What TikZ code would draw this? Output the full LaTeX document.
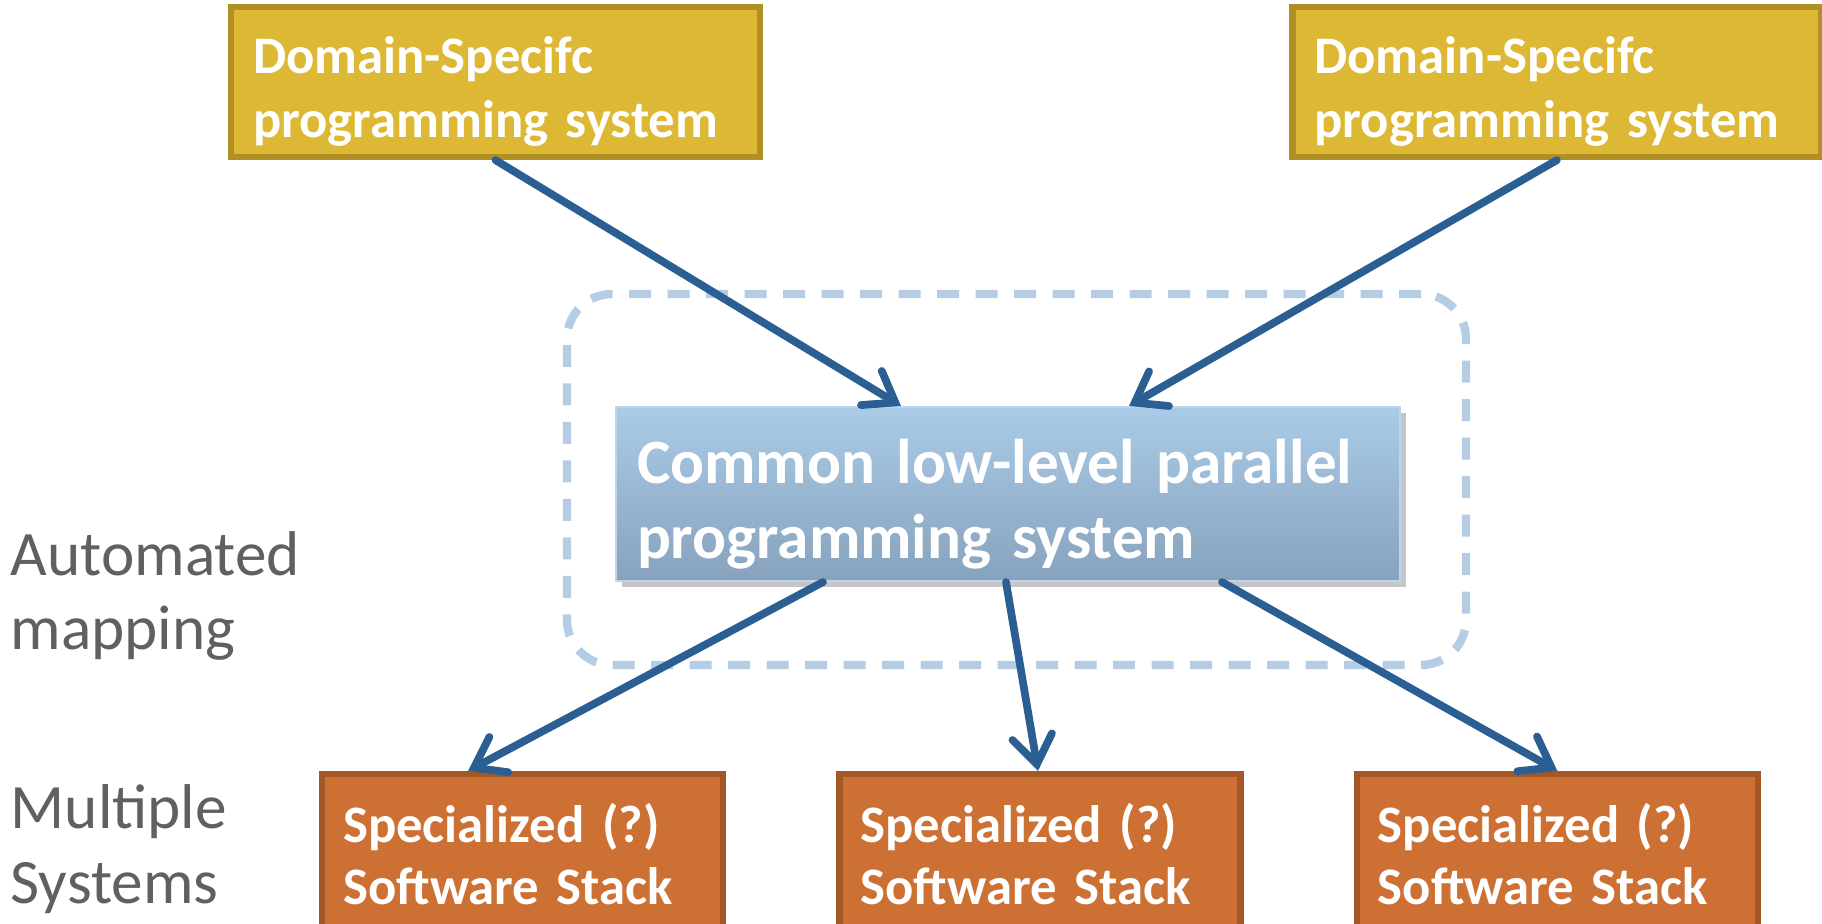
\documentclass[tikz,border=0pt]{standalone}
\usepackage{fontspec}
\setmainfont{Carlito}
\usepackage{tikz}
\usetikzlibrary{arrows.meta, positioning, shadows}

\definecolor{dslfill}{RGB}{221,184,52}
\definecolor{dsldraw}{RGB}{176,143,36}
\definecolor{stackfill}{RGB}{204,112,51}
\definecolor{stackdraw}{RGB}{164,88,39}
\definecolor{lowtop}{RGB}{170,203,231}
\definecolor{lowbot}{RGB}{135,162,189}
\definecolor{arrowblue}{RGB}{43,95,147}
\definecolor{framecol}{RGB}{180,205,228}
\definecolor{labelgray}{RGB}{96,96,96}

\begin{document}
\begin{tikzpicture}[
        node distance=1.1cm and 1.1cm,
        dslbox/.style={rectangle, draw=dsldraw, line width=1.8pt, fill=dslfill, align=left, text=white, font=\bfseries\fontsize{15}{18.4}\selectfont, minimum width=5.29cm, text width=4.85cm, inner xsep=0.22cm, inner ysep=0pt, minimum height=1.5cm, execute at begin node={\rule{0pt}{16pt}}},
        stackbox/.style={rectangle, draw=stackdraw, line width=1.8pt, fill=stackfill, align=left, text=white, font=\bfseries\fontsize{15}{17.6}\selectfont, minimum width=4.01cm, text width=3.59cm, inner xsep=0.21cm, minimum height=1.6cm},
        lowbox/.style={rectangle, draw=lowtop!80!white, line width=0.6pt, top color=lowtop, bottom color=lowbot, align=left, text=white, font=\bfseries\fontsize{18}{21.3}\selectfont, minimum width=7.84cm, text width=7.42cm, inner xsep=0.21cm, inner ysep=0pt, minimum height=1.74cm, execute at begin node={\rule{0pt}{18.6pt}}, drop shadow={shadow xshift=0.06cm, shadow yshift=-0.06cm, opacity=0.45}},
        framebox/.style={rectangle, draw=framecol, line width=2.4pt, dash pattern=on 0.22cm off 0.165cm, rounded corners=0.45cm, minimum width=8.99cm, minimum height=3.71cm},
        sidelabel/.style={align=left, anchor=west, inner sep=0pt, text=labelgray, font=\fontsize{18}{21.2}\selectfont},
        arrow/.style={draw=arrowblue, line width=2.2pt, line cap=round, -{Straight Barb[length=0.28cm, width=0.4cm, line cap=round]}}
    ]
    \useasboundingbox (0,0) rectangle (18.22,-9.24);

    % Frame
    \node (frame) [framebox] at (10.165,-4.795) {};

    % Nodes
    \node (dslA) [dslbox] at (4.955,-0.82) {Domain-Specifc\\programming system};
    \node (dslB) [dslbox, right=5.26cm of dslA] {Domain-Specifc\\programming system};

    \node (low) [lowbox] at (10.08,-4.94) {Common low-level parallel\\programming system};

    \node (stackB) [stackbox] at (10.40,-8.54) {Specialized (?)\\Software Stack};
    \node (stackA) [stackbox, left=of stackB] {Specialized (?)\\Software Stack};
    \node (stackC) [stackbox, right=of stackB] {Specialized (?)\\Software Stack};

    % Labels
    \node (mapping) [sidelabel] at (0.1,-5.96) {Automated\\mapping};
    \node (systems) [sidelabel] at (0.1,-8.49) {Multiple\\Systems};

    % Arrows
    \draw [arrow] (dslA.south) -- ([xshift=-1.07cm]low.north);
    \draw [arrow] (dslB.south) -- ([xshift=1.21cm]low.north);
    \draw [arrow] ([xshift=-1.85cm]low.south) -- ([xshift=-0.545cm]stackA.north);
    \draw [arrow] ([xshift=-0.02cm]low.south) -- ([xshift=-0.02cm]stackB.north);
    \draw [arrow] ([xshift=2.14cm]low.south) -- (stackC.north);

    \end{tikzpicture}
\end{document}
